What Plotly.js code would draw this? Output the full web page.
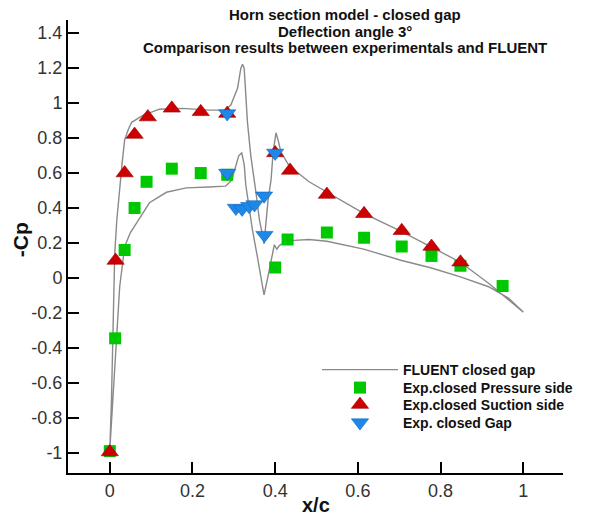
<!DOCTYPE html>
<html>
<head>
<meta charset="utf-8">
<script src="https://cdn.plot.ly/plotly-3.0.1.min.js"></script>
<style>html,body{margin:0;padding:0;background:#fff;}#chart{width:590px;height:518px;}</style>
</head>
<body>
<div id="chart"></div>
<script>
// FLUENT curve, suction (upper) branch from leading edge to trailing edge
var fluentSuctionX = [0, 0.004, 0.007, 0.012, 0.017, 0.024, 0.030, 0.036, 0.045, 0.053, 0.08, 0.12, 0.176, 0.24, 0.28, 0.293, 0.309, 0.317, 0.321, 0.325, 0.329, 0.333, 0.341, 0.349, 0.354, 0.362, 0.369, 0.373, 0.378, 0.383, 0.39, 0.395, 0.402, 0.408, 0.414, 0.434, 0.482, 0.525, 0.614, 0.706, 0.778, 0.848, 0.916, 0.964, 1.0];
var fluentSuctionY = [-0.985, -0.71, -0.43, 0.14, 0.33, 0.50, 0.66, 0.79, 0.85, 0.89, 0.93, 0.965, 0.97, 0.96, 0.96, 0.99, 1.085, 1.2, 1.222, 1.2, 1.09, 0.89, 0.70, 0.57, 0.48, 0.33, 0.25, 0.195, 0.30, 0.45, 0.56, 0.72, 0.83, 0.78, 0.72, 0.64, 0.55, 0.49, 0.37, 0.265, 0.175, 0.09, -0.03, -0.126, -0.195];
// FLUENT curve, pressure (lower) branch from leading edge to trailing edge
var fluentPressureX = [0, 0.007, 0.016, 0.024, 0.036, 0.05, 0.065, 0.096, 0.137, 0.185, 0.24, 0.28, 0.295, 0.305, 0.312, 0.319, 0.325, 0.329, 0.337, 0.345, 0.357, 0.365, 0.373, 0.381, 0.39, 0.398, 0.404, 0.41, 0.42, 0.446, 0.482, 0.525, 0.614, 0.706, 0.778, 0.848, 0.916, 0.964, 1.0];
var fluentPressureY = [-0.985, -0.71, -0.34, -0.05, 0.18, 0.26, 0.315, 0.43, 0.49, 0.515, 0.52, 0.525, 0.56, 0.65, 0.70, 0.715, 0.65, 0.53, 0.40, 0.275, 0.12, 0.008, -0.097, -0.01, 0.10, 0.19, 0.165, 0.185, 0.20, 0.215, 0.22, 0.21, 0.165, 0.10, 0.057, 0.006, -0.05, -0.115, -0.195];

// Experimental points
var pressureX = [0, 0.013, 0.036, 0.06, 0.089, 0.15, 0.22, 0.284, 0.40, 0.43, 0.525, 0.615, 0.706, 0.778, 0.848, 0.95];
var pressureY = [-0.99, -0.345, 0.16, 0.40, 0.55, 0.625, 0.60, 0.59, 0.06, 0.22, 0.26, 0.23, 0.18, 0.126, 0.07, -0.046];
var suctionX = [0, 0.014, 0.036, 0.06, 0.092, 0.15, 0.22, 0.284, 0.40, 0.436, 0.525, 0.615, 0.706, 0.778, 0.848];
var suctionY = [-0.995, 0.10, 0.60, 0.82, 0.92, 0.97, 0.95, 0.94, 0.715, 0.615, 0.477, 0.367, 0.27, 0.18, 0.09];
var gapX = [0.284, 0.284, 0.305, 0.32, 0.337, 0.35, 0.373, 0.374, 0.40];
var gapY = [0.94, 0.60, 0.40, 0.395, 0.41, 0.42, 0.47, 0.245, 0.715];

// Tick labels
var xTickVals = [0, 0.2, 0.4, 0.6, 0.8, 1];
var xTickText = ["0", "0.2", "0.4", "0.6", "0.8", "1"];
var yTickVals = [-1, -0.8, -0.6, -0.4, -0.2, 0, 0.2, 0.4, 0.6, 0.8, 1, 1.2, 1.4];
var yTickText = ["-1", "-0.8", "-0.6", "-0.4", "-0.2", "0", "0.2", "0.4", "0.6", "0.8", "1", "1.2", "1.4"];

var titleLines = ["Horn section model - closed gap", "Deflection angle 3\u00b0", "Comparison results between experimentals and FLUENT"];
var seriesNames = ["FLUENT closed gap", "Exp.closed Pressure side", "Exp.closed Suction side", "Exp. closed Gap"];

var FONT = "Liberation Sans, Arial, Helvetica, sans-serif";

var curveX = fluentSuctionX.slice().reverse().concat(fluentPressureX.slice(1));
var curveY = fluentSuctionY.slice().reverse().concat(fluentPressureY.slice(1));

var traces = [
  {x: curveX, y: curveY, mode: "lines", name: seriesNames[0], legend: "legend",
   line: {color: "#8a8a8a", width: 1.4}},
  {x: pressureX, y: pressureY, mode: "markers", name: seriesNames[1], legend: "legend2",
   marker: {symbol: "square", size: 12, color: "#00c800", line: {width: 0}}},
  {x: suctionX, y: suctionY, mode: "markers", name: seriesNames[2], legend: "legend3",
   marker: {symbol: "triangle-up", size: 15, color: "#cc0000", line: {width: 0.6, color: "#a00000"}}},
  {x: gapX, y: gapY, mode: "markers", name: seriesNames[3], legend: "legend4",
   marker: {symbol: "triangle-down", size: 15, color: "#1e88e8", line: {width: 0.6, color: "#1565c0"}}}
];

var L = 68, R = 25, T = 20, B = 45, W = 590, H = 518;
var pw = W - L - R, ph = H - T - B;
function px2x(p){ return (p - L) / pw; }
function py2y(p){ return (H - B - p) / ph; }

function legendAt(rowY){
  return {x: px2x(318), xanchor: "left", y: py2y(rowY), yanchor: "middle",
    bgcolor: "rgba(0,0,0,0)", borderwidth: 0, itemwidth: 76,
    font: {family: FONT, size: 14, color: "#111", weight: "bold"}};
}

var annotations = [];
var titleY = [15, 31.5, 48];
for (var i = 0; i < titleLines.length; i++) {
  annotations.push({text: titleLines[i], xref: "paper", yref: "paper", x: px2x(346), y: py2y(titleY[i]),
    xanchor: "center", yanchor: "middle", showarrow: false,
    font: {family: FONT, size: 15, color: "#111", weight: "bold"}});
}
annotations.push({text: "-Cp", xref: "paper", yref: "paper", x: px2x(20), y: py2y(240), textangle: -90,
  xanchor: "center", yanchor: "middle", showarrow: false,
  font: {family: FONT, size: 21, color: "#111", weight: "bold"}});
annotations.push({text: "x/c", xref: "paper", yref: "paper", x: px2x(317), y: py2y(505),
  xanchor: "center", yanchor: "middle", showarrow: false,
  font: {family: FONT, size: 20, color: "#111", weight: "bold"}});

var layout = {
  width: W, height: H,
  margin: {l: L, r: R, t: T, b: B, pad: 0},
  paper_bgcolor: "#fff", plot_bgcolor: "#fff",
  showlegend: true,
  legend: legendAt(370),
  legend2: legendAt(388),
  legend3: legendAt(405),
  legend4: legendAt(423),
  xaxis: {range: [-0.101, 1.096], tickmode: "array", tickvals: xTickVals, ticktext: xTickText,
    ticks: "inside", ticklen: 11, tickwidth: 2, tickcolor: "#000",
    showline: true, linecolor: "#000", linewidth: 2, showgrid: false, zeroline: false,
    tickfont: {family: FONT, size: 18, color: "#333"}},
  yaxis: {range: [-1.115, 1.475], tickmode: "array", tickvals: yTickVals, ticktext: yTickText,
    ticks: "inside", ticklen: 11, tickwidth: 2, tickcolor: "#000",
    showline: true, linecolor: "#000", linewidth: 2, showgrid: false, zeroline: false,
    tickfont: {family: FONT, size: 18, color: "#333"}},
  annotations: annotations
};

Plotly.newPlot("chart", traces, layout, {displayModeBar: false, staticPlot: true});
</script>
</body>
</html>
